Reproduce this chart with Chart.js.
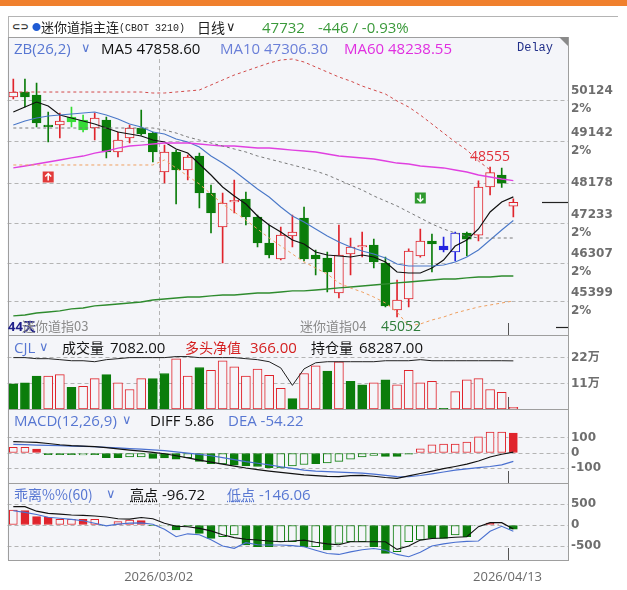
<!DOCTYPE html>
<html><head><meta charset="utf-8">
<script src="https://cdn.jsdelivr.net/npm/chart.js@4.4.1/dist/chart.umd.min.js"></script>
<style>
html,body{margin:0;padding:0;background:#fff;}
body{width:627px;height:590px;position:relative;overflow:hidden;}
.abs{position:absolute;}
.t{position:absolute;white-space:nowrap;line-height:18px;height:18px;font-family:"Open Sans","Noto Sans CJK SC",sans-serif;font-size:15px;color:#111;}
.cjk{font-family:"Noto Sans CJK SC",sans-serif;font-size:14px;}
.chev{font-family:"DejaVu Sans",sans-serif;font-size:13px;}
.blue{color:#5877d2;}
</style></head><body>
<div class="abs" style="left:0;top:0;width:627px;height:6px;background:#f0802e"></div>
<div class="abs" style="left:8px;top:16px;width:610px;height:1px;background:#b4b4b4"></div>
<div class="abs" style="left:8px;top:16px;width:1px;height:22px;background:#b4b4b4"></div>

<div class="abs" style="left:0;top:37px;width:627px;height:298px"><canvas id="cMain"></canvas></div>
<div class="abs" style="left:0;top:335px;width:627px;height:74px"><canvas id="cVol"></canvas></div>
<div class="abs" style="left:0;top:409px;width:627px;height:74px"><canvas id="cMacd"></canvas></div>
<div class="abs" style="left:0;top:483px;width:627px;height:107px"><canvas id="cBias"></canvas></div>

<!-- title row -->
<div class="t" style="left:12px;top:18px;font-family:'DejaVu Sans';font-size:10px;font-weight:bold;color:#333">⊂⊃</div>
<div class="t" style="left:32px;top:18px;font-size:9px;color:#1f5bd4">●</div>
<div class="t cjk" style="left:41px;top:18px;font-size:13px;color:#222">迷你道指主连</div>
<div class="t" style="left:119px;top:20px;font-family:'Liberation Mono';font-size:10px;color:#222">(CBOT 3210)</div>
<div class="t cjk" style="left:197px;top:18px;color:#222">日线</div>
<div class="t chev" style="left:226px;top:18px;color:#222">∨</div>
<div class="t" style="left:262px;top:18px;color:#3b9a3b">47732</div>
<div class="t" style="left:318px;top:18px;color:#3b9a3b">-446 / -0.93%</div>

<!-- main header -->
<div class="t blue" style="left:14px;top:39px">ZB(26,2)</div>
<div class="t chev blue" style="left:81px;top:39px">∨</div>
<div class="t" style="left:101px;top:39px">MA5 47858.60</div>
<div class="t" style="left:220px;top:39px;color:#6a7fd8">MA10 47306.30</div>
<div class="t" style="left:344px;top:39px;color:#e030e0">MA60 48238.55</div>
<div class="t" style="left:517px;top:39px;font-family:'Liberation Mono';font-size:12px;color:#22308a">Delay</div>
<div class="abs" style="left:559px;top:37px;width:0;height:0;border-top:9px solid #8a8a8a;border-left:9px solid transparent"></div>
<div class="t" style="left:8px;top:317px;font-size:13px;font-weight:bold;color:#20208a">44天</div>
<div class="t cjk" style="left:22px;top:317px;font-size:13px;color:#8a8a8a">迷你道指03</div>
<div class="t cjk" style="left:300px;top:317px;font-size:13px;color:#8a8a8a">迷你道指04</div>

<!-- volume header -->
<div class="t blue" style="left:14px;top:338px">CJL</div>
<div class="t chev blue" style="left:39px;top:338px">∨</div>
<div class="t cjk" style="left:62px;top:338px">成交量</div>
<div class="t" style="left:110px;top:338px">7082.00</div>
<div class="t cjk" style="left:185px;top:338px;color:#d42020">多头净值</div>
<div class="t" style="left:250px;top:338px;color:#d42020">366.00</div>
<div class="t cjk" style="left:311px;top:338px">持仓量</div>
<div class="t" style="left:359px;top:338px">68287.00</div>

<!-- macd header -->
<div class="t blue" style="left:14px;top:411px">MACD(12,26,9)</div>
<div class="t chev blue" style="left:122px;top:411px">∨</div>
<div class="t" style="left:150px;top:411px">DIFF 5.86</div>
<div class="t" style="left:228px;top:411px;color:#5877d2">DEA -54.22</div>

<!-- bias header -->
<div class="t cjk blue" style="left:14px;top:485px">乖离%%(60)</div>
<div class="t chev blue" style="left:106px;top:485px">∨</div>
<div class="t cjk" style="left:130px;top:485px;text-decoration:underline dotted">高点</div>
<div class="t" style="left:162px;top:485px">-96.72</div>
<div class="t cjk blue" style="left:227px;top:485px;text-decoration:underline dotted">低点</div>
<div class="t blue" style="left:259px;top:485px">-146.06</div>

<script>
// ---------- data ----------
const dates = ['2026/02/11','2026/02/12','2026/02/13','2026/02/16','2026/02/17','2026/02/18','2026/02/19','2026/02/20','2026/02/23','2026/02/24','2026/02/25','2026/02/26','2026/02/27','2026/03/02','2026/03/03','2026/03/04','2026/03/05','2026/03/06','2026/03/09','2026/03/10','2026/03/11','2026/03/12','2026/03/13','2026/03/16','2026/03/17','2026/03/18','2026/03/19','2026/03/20','2026/03/23','2026/03/24','2026/03/25','2026/03/26','2026/03/27','2026/03/30','2026/03/31','2026/04/01','2026/04/02','2026/04/03','2026/04/06','2026/04/07','2026/04/08','2026/04/09','2026/04/10','2026/04/13'];
const dateTicks = ['2026/03/02','2026/04/13'];

const open  = [50194,50311,50241,49540,49539,49726,49656,49469,49656,48908,49235,49469,49352,48440,48908,48487,48814,47949,47154,47740,47808,47387,46779,46405,46943,47364,46498,46428,45610,46522,46685,46732,46311,45212,45469,46475,46826,46709,46569,47013,46960,48089,48370,47640];
const high  = [50615,50615,50522,49843,49820,49960,49773,49820,49726,49376,49539,49890,49376,49071,48954,48837,48884,48136,47949,48253,47972,47434,47200,47154,47434,47621,46615,46569,47200,46896,47037,46873,46450,45914,46640,47107,46990,46920,47037,47037,48236,48555,48530,47810];
const low   = [50147,49960,49492,49142,49235,49492,49376,49188,48767,48791,49118,49300,48674,48183,47691,48253,47598,47013,46311,47481,47200,46685,46428,46382,46685,46358,46030,45633,45493,46030,46452,46194,45282,45052,45282,46450,46101,46568,46358,46475,46826,47902,48080,47387];
const close = [50311,50194,49586,49500,49633,49610,49422,49703,48908,49188,49469,49329,48908,48908,48487,48791,47949,47481,47715,47780,47387,46779,46498,46966,47037,46405,46405,46101,46498,46686,46720,46335,45305,45446,46592,46826,46756,46615,47013,46868,48089,48426,48178,47732];
// u = up (red hollow), d = down (green), l = lime, b = blue filled, B = blue hollow
const candleKind = ['u','d','d','d','u','l','l','u','d','u','u','d','d','u','d','u','d','d','u','u','d','d','d','u','u','d','d','d','u','u','u','d','d','u','u','u','d','b','B','d','u','u','d','u'];

const ma5  = [49843,49960,50077,49984,49773,49703,49633,49563,49469,49376,49329,49282,49188,49142,48978,48884,48627,48370,48089,47879,47691,47411,47200,47036,46849,46756,46569,46498,46475,46452,46498,46452,46335,46101,46077,46077,46194,46381,46709,46849,47107,47505,47738,47858.6];
const ma10 = [49539,49633,49703,49750,49773,49797,49820,49843,49773,49680,49563,49493,49376,49329,49212,49142,49025,48814,48650,48463,48253,48042,47855,47621,47411,47270,47107,46943,46803,46686,46592,46522,46428,46288,46241,46241,46241,46265,46335,46452,46616,46850,47083,47306.3];
const ma60 = [48534,48580,48627,48674,48721,48768,48814,48884,48931,49001,49048,49071,49095,49118,49118,49118,49095,49071,49048,49048,49025,49001,49001,48978,48954,48931,48908,48861,48814,48791,48768,48744,48697,48650,48627,48580,48557,48534,48487,48440,48370,48323,48276,48238.55];
const maLong = [45072,45095,45142,45165,45189,45236,45259,45306,45329,45352,45376,45399,45446,45469,45493,45516,45516,45540,45563,45563,45586,45610,45610,45633,45657,45657,45680,45703,45727,45750,45773,45797,45820,45844,45867,45890,45914,45937,45937,45961,45984,45984,46007,46007];
const bandUpper = [50311,50311,50311,50311,50311,50311,50311,50311,50311,50311,50311,50311,50288,50288,50311,50335,50358,50475,50592,50709,50802,50896,50989,51060,51083,51013,50896,50779,50662,50568,50451,50358,50264,50101,49960,49773,49563,49352,49142,48954,48697,48487,null,null];
const bandMid = [49469,49469,49469,49469,49469,49469,49469,49469,49469,49469,49469,49469,49469,49422,49352,49259,49188,49118,49048,48978,48908,48814,48744,48674,48604,48533,48463,48370,48253,48136,48019,47879,47762,47645,47504,47364,47224,47107,47013,46943,46896,46896,46896,46896];
const bandLower = [48604,48604,48604,48604,48604,48604,48604,48604,48604,48604,48604,48604,48604,48721,48533,48346,48159,47925,47691,47504,47317,47107,46896,46709,46522,46335,46194,46054,45844,45727,45633,45516,45376,45165,44838,44885,44978,45048,45142,45212,45282,45329,45376,45423];
const priceTicks = [50124,49142,48178,47233,46307,45399];
const priceTickNote = ['2%','2%','','2%','2%','2%'];
const markerUp = {i:3, price:48323};
const markerDown = {i:35, price:47832};

const volume = [108600,113000,142000,142000,148000,94000,98000,131000,148000,113000,84000,131000,131000,153000,216000,142000,179000,167000,208000,182000,142000,172000,145000,89000,45000,153000,186000,164000,204000,119000,104000,113000,126000,104000,167000,113000,119000,3000,75000,126000,131000,84000,72000,7082];
const volUp = [0,0,0,1,1,0,1,1,0,1,1,1,0,0,1,1,0,1,1,1,1,1,1,1,0,1,1,0,1,0,0,1,0,1,1,1,1,0,1,1,1,1,1,1];
const openInterest = [72900,72900,71400,71400,70000,68500,68500,67100,70000,71400,72900,72900,72900,72900,74400,74400,72900,72900,72900,72900,71400,70000,67100,58300,33500,56900,65600,67100,67100,67100,67100,67100,68500,68500,68500,70000,68500,68500,68500,68500,68500,68500,68500,68287];
const volTicks = [110000,220000];
const volTickLabels = ['11万','22万'];

const macdHist = [37,37,25,-11,-11,-11,-12,-11,-30,-30,-25,-25,-35,-32,-40,-30,-55,-70,-72,-80,-85,-88,-95,-98,-85,-75,-70,-65,-55,-40,-25,-15,-22,-22,-8,28,54,59,59,72,105,137,137,131];
const macdFill = [0,0,1,1,1,1,0,1,1,1,0,0,1,1,1,0,1,1,0,1,1,1,1,0,0,0,1,0,0,0,0,0,1,1,1,0,0,0,0,0,0,0,0,1];
const diff = [74,72,70,62,54,48,45,42,35,27,19,12,4,-5,-18,-32,-46,-59,-73,-86,-98,-108,-118,-127,-135,-143,-148,-153,-154,-148,-146,-152,-160,-166,-150,-134,-118,-102,-88,-73,-52,-26,-8,5.86];
const dea  = [57,55,52,50,48,45,43,41,37,33,29,25,21,15,7,-1,-9,-18,-30,-43,-56,-67,-78,-90,-101,-112,-118,-122,-125,-128,-131,-138,-146,-154,-155,-147,-136,-124,-112,-104,-96,-88,-78,-54.22];
const macdTicks = [100,0,-100];

const biasBar = [357,341,198,183,135,135,135,135,-15,79,119,103,-10,-20,-119,-30,-198,-317,-278,-238,-476,-516,-516,-397,-397,-516,-516,-595,-437,-397,-397,-516,-675,-635,-397,-357,-317,-317,-238,-278,-15,45,20,-97];
const biasFill = [0,1,1,1,0,0,1,0,0,0,0,1,1,0,1,1,1,1,0,0,1,1,1,0,0,1,0,1,0,0,0,1,1,0,0,0,1,1,0,1,0,1,0,1];
const biasHigh = [437,437,330,278,258,240,230,215,190,150,140,180,150,40,-30,-40,-80,-140,-230,-300,-340,-357,-380,-397,-380,-360,-410,-450,-470,-400,-397,-397,-397,-580,-500,-360,-320,-310,-290,-280,-40,56,56,-96.72];
const biasLow = [341,300,250,183,160,135,100,40,-20,20,45,50,20,-100,-278,-210,-230,-350,-500,-556,-420,-470,-476,-476,-490,-516,-600,-680,-700,-640,-590,-560,-600,-700,-754,-650,-500,-450,-410,-390,-381,-150,-30,-146.06];
const biasTicks = [500,0,-500];

// ---------- style ----------
const BG = '#f4f5f9', GRID = '#b4b4b4', FRAME = '#9e9e9e';
const RED = '#e0242c', GREEN = '#0b7d0b', LIME = '#36dc36', BLUE = '#2424e0';
const N = dates.length;
const XMIN = -0.5, XMAX = 47.7;
const idx = dates.map((d, i) => i);
const AXISFONT = {family: 'DejaVu Sans, Noto Sans CJK SC', size: 12, weight: 'bold', lineHeight: 1.5};

const kindColor = k => ({u: RED, d: GREEN, l: LIME, b: BLUE, B: BLUE}[k]);
const kindHollow = k => (k === 'u' || k === 'B');

const framePlugin = {
  id: 'frame',
  beforeDraw(c) {
    const a = c.chartArea, x = c.ctx;
    x.save(); x.fillStyle = BG; x.fillRect(a.left, a.top, a.right - a.left, a.bottom - a.top); x.restore();
  },
  beforeDatasetsDraw(c, args, o) {
    const a = c.chartArea, x = c.ctx, sx = c.scales.x;
    x.save();
    const p1 = Math.round(sx.getPixelForValue(dates.indexOf(dateTicks[0]) - 0.5)) + 0.5;
    x.strokeStyle = GRID; x.lineWidth = 1; x.setLineDash([4, 3]);
    x.beginPath(); x.moveTo(p1, a.top + (o.vTop || 0)); x.lineTo(p1, a.bottom); x.stroke();
    const p2 = Math.round(sx.getPixelForValue(dates.indexOf(dateTicks[1]) - 0.5)) + 0.5;
    x.setLineDash([]); x.strokeStyle = '#555';
    x.beginPath(); x.moveTo(p2, a.bottom - 12); x.lineTo(p2, a.bottom); x.stroke();
    x.restore();
  },
  afterDraw(c) {
    const a = c.chartArea, x = c.ctx;
    x.save(); x.strokeStyle = FRAME; x.lineWidth = 1;
    x.strokeRect(Math.round(a.left) + 0.5, Math.round(a.top) + 0.5, Math.round(a.right - a.left) - 1, Math.round(a.bottom - a.top));
    x.restore();
  }
};

const mainExtras = {
  id: 'mainExtras',
  afterDatasetsDraw(c) {
    const x = c.ctx, sx = c.scales.x, sy = c.scales.y, a = c.chartArea;
    x.save();
    const hi = high.indexOf(Math.max(...high.slice(30)), 30);
    const lo = low.indexOf(Math.min(...low));
    x.font = '14px "Open Sans"'; x.textAlign = 'center'; x.textBaseline = 'middle';
    x.fillStyle = '#e0303a';
    x.fillText(String(high[hi]), sx.getPixelForValue(hi), sy.getPixelForValue(high[hi]) - 10);
    x.fillStyle = '#2e7d3a';
    x.fillText(String(low[lo]), sx.getPixelForValue(lo) + 4, sy.getPixelForValue(low[lo]) + 10);
    const box = (m, col, up) => {
      const px = sx.getPixelForValue(m.i), py = sy.getPixelForValue(m.price);
      x.fillStyle = col; x.fillRect(px - 5.5, py - 5.5, 11, 11);
      x.strokeStyle = '#fff'; x.lineWidth = 1.5; x.beginPath();
      x.moveTo(px, py - 3.5); x.lineTo(px, py + 3.5);
      if (up) { x.moveTo(px - 3, py - 0.5); x.lineTo(px, py - 3.5); x.lineTo(px + 3, py - 0.5); }
      else { x.moveTo(px - 3, py + 0.5); x.lineTo(px, py + 3.5); x.lineTo(px + 3, py + 0.5); }
      x.stroke();
    };
    box(markerUp, '#e23a3a', true);
    box(markerDown, '#2f9a2f', false);
    const cy = Math.round(sy.getPixelForValue(close[N - 1])) + 0.5;
    x.strokeStyle = '#222'; x.lineWidth = 1.2;
    x.beginPath(); x.moveTo(a.right - 26, cy); x.lineTo(a.right, cy); x.stroke();
    x.beginPath(); x.moveTo(a.right - 12, a.bottom - 7.5); x.lineTo(a.right, a.bottom - 7.5); x.stroke();
    x.restore();
  }
};

function xAxis(show) {
  return {
    type: 'linear', min: XMIN, max: XMAX, offset: false, display: show,
    grid: {display: false, drawTicks: false}, border: {display: false},
    afterBuildTicks: s => { s.ticks = dateTicks.map(d => ({value: dates.indexOf(d) - 0.5})); },
    ticks: {display: show, autoSkip: false, maxRotation: 0, padding: 9, color: '#6a6a6a',
      font: {family: 'Open Sans', size: 13},
      callback: v => dates[Math.round(v + 0.5)]},
    afterFit: s => { s.height = show ? 30 : 0; s.paddingLeft = 0; s.paddingRight = 0; s.paddingTop = 0; s.paddingBottom = 0; }
  };
}
function yAxis(min, max, ticks, labelFn) {
  return {
    type: 'linear', position: 'right', min, max, beginAtZero: false,
    afterBuildTicks: s => { s.ticks = ticks.map(v => ({value: v})); },
    grid: {color: GRID, drawTicks: false, lineWidth: 1},
    border: {display: false, dash: [4, 3]},
    ticks: {callback: labelFn, padding: 3, color: '#6e6e6e', font: AXISFONT},
    afterFit: s => { s.width = 59; s.paddingTop = 0; s.paddingBottom = 0; s.paddingLeft = 0; s.paddingRight = 0; }
  };
}
function baseOptions(scales, vTop) {
  return {
    responsive: true, maintainAspectRatio: false, animation: false, events: [],
    layout: {padding: {left: 7.5, right: 0, top: 0, bottom: 0}, autoPadding: false},
    plugins: {legend: {display: false}, tooltip: {enabled: false}, frame: {vTop}},
    scales
  };
}
const pts = arr => idx.map(i => ({x: i, y: arr[i]}));
const line = (arr, color, width, dash, yID) => ({
  type: 'line', data: pts(arr), borderColor: color, borderWidth: width, borderDash: dash || [],
  pointRadius: 0, tension: 0, fill: false, spanGaps: false, order: 0, yAxisID: yID || 'y'
});
const histBar = (arr, fill, thick) => ({
  type: 'bar', data: pts(arr), grouped: false, barThickness: thick, borderWidth: 1, borderSkipped: false,
  backgroundColor: idx.map(i => fill[i] ? (arr[i] >= 0 ? RED : GREEN) : BG),
  borderColor: idx.map(i => arr[i] >= 0 ? RED : GREEN), order: 2
});

// ---------- main price chart ----------
new Chart(document.getElementById('cMain'), {
  type: 'bar',
  data: {datasets: [
    line(bandUpper, '#d24a4a', 1, [3, 3]),
    line(bandMid, '#7a7a7a', 1, [3, 3]),
    line(bandLower, '#f0a060', 1, [3, 3]),
    line(maLong, '#2e8b2e', 1.3),
    line(ma60, '#e040e0', 1.3),
    line(ma10, '#4a78c8', 1.1),
    line(ma5, '#111111', 1.2),
    {type: 'bar', data: idx.map(i => ({x: i, y: [open[i], close[i]]})), grouped: false, barThickness: 9,
      borderWidth: 1, borderSkipped: false,
      backgroundColor: candleKind.map(k => kindHollow(k) ? BG : kindColor(k)),
      borderColor: candleKind.map(kindColor), order: 1},
    {type: 'bar', data: idx.map(i => ({x: i, y: [low[i], high[i]]})), grouped: false, barThickness: 1,
      borderWidth: 0, backgroundColor: candleKind.map(kindColor), order: 3}
  ]},
  options: baseOptions({
    x: xAxis(false),
    y: yAxis(44627, 51598, priceTicks, (v, i) => priceTickNote[i] ? [String(v), priceTickNote[i]] : String(v))
  }, 22),
  plugins: [framePlugin, mainExtras]
});

// ---------- volume chart ----------
new Chart(document.getElementById('cVol'), {
  type: 'bar',
  data: {datasets: [
    line(openInterest, '#222', 1, [], 'yOI'),
    {type: 'bar', data: pts(volume), grouped: false, barThickness: 9, borderWidth: 1, borderSkipped: false,
      backgroundColor: idx.map(i => volUp[i] ? BG : GREEN),
      borderColor: idx.map(i => volUp[i] ? RED : GREEN), order: 2}
  ]},
  options: baseOptions({
    x: xAxis(false),
    y: yAxis(0, 319200, volTicks, (v, i) => volTickLabels[i]),
    yOI: {type: 'linear', display: false, min: 0, max: 105000}
  }, 22),
  plugins: [framePlugin]
});

// ---------- MACD chart ----------
new Chart(document.getElementById('cMacd'), {
  type: 'bar',
  data: {datasets: [
    line(diff, '#111', 1.2),
    line(dea, '#4a70d0', 1.2),
    histBar(macdHist, macdFill, 8)
  ]},
  options: baseOptions({
    x: xAxis(false),
    y: yAxis(-196, 287.6, macdTicks, v => String(v))
  }, 22),
  plugins: [framePlugin]
});

// ---------- BIAS chart ----------
new Chart(document.getElementById('cBias'), {
  type: 'bar',
  data: {datasets: [
    line(biasHigh, '#111', 1.1),
    line(biasLow, '#4a70d0', 1.1),
    histBar(biasBar, biasFill, 8)
  ]},
  options: baseOptions({
    x: xAxis(true),
    y: yAxis(-833, 1000, biasTicks, v => String(v))
  }, 20),
  plugins: [framePlugin]
});
</script>
</body></html>
